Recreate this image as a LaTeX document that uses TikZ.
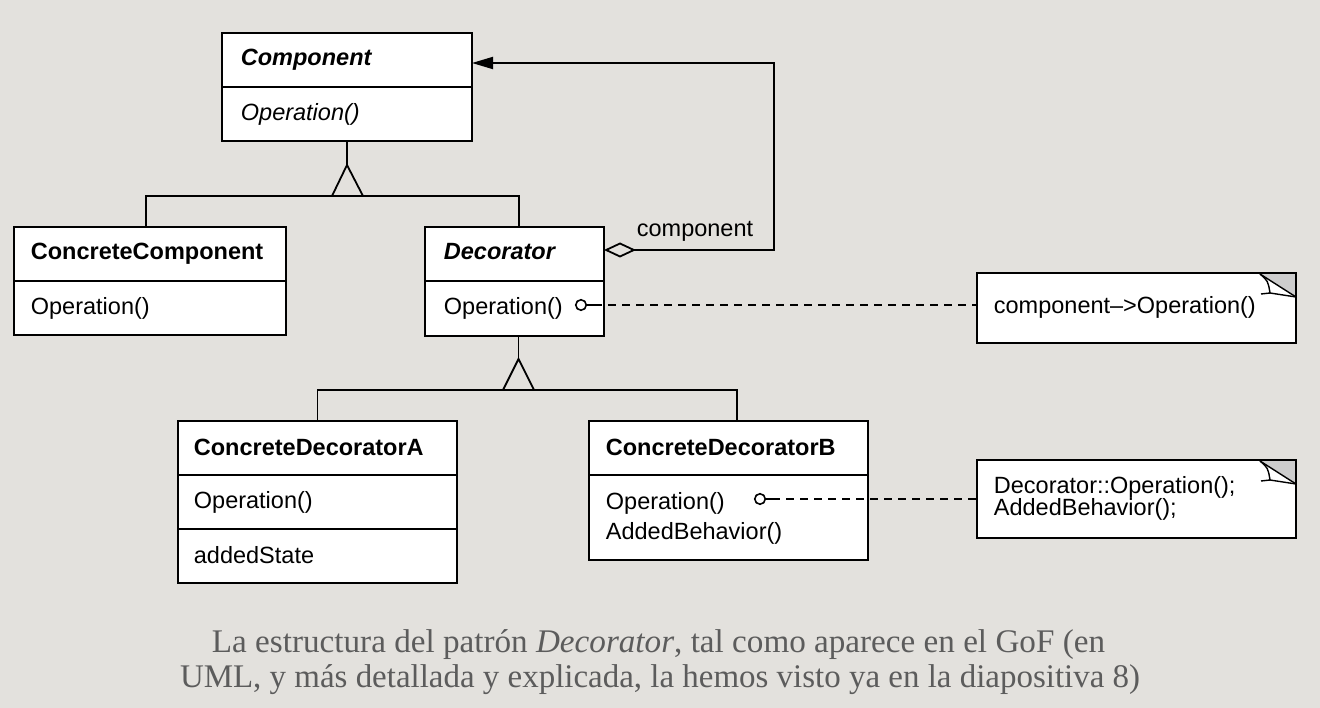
\documentclass[tikz,border=0pt]{standalone}
\usepackage{fontspec}
\usepackage{graphicx}
\usetikzlibrary{arrows.meta}
\newfontfamily\umlfont{Liberation Sans}
\newfontfamily\capfont{Liberation Serif}
\definecolor{bg}{RGB}{227,225,221}
\definecolor{capgray}{RGB}{92,92,92}
\definecolor{foldgray}{RGB}{205,205,205}
\begin{document}
\begin{tikzpicture}[x=1pt,y=-1pt,line width=1.8pt,
  box/.style={draw,fill=white,anchor=north west,inner sep=0pt,outer sep=0pt},
  txt/.style={anchor=base west,inner sep=0pt,font=\umlfont\fontsize{23.5}{28}\selectfont},
  ttl/.style={anchor=base west,inner sep=0pt,font=\umlfont\bfseries\fontsize{23.5}{28}\selectfont},
  ittl/.style={anchor=base west,inner sep=0pt,font=\umlfont\bfseries\itshape\fontsize{23.5}{28}\selectfont},
  itxt/.style={anchor=base west,inner sep=0pt,font=\umlfont\itshape\fontsize{23.5}{28}\selectfont},
  lolly/.style={circle,draw,fill=white,inner sep=0pt,minimum size=10.5pt,line width=1.6pt},
  dep/.style={dash pattern=on 8pt off 6pt},
  captext/.style={anchor=base,inner sep=0pt,text=capgray,font=\capfont\fontsize{33}{40}\selectfont}]
\useasboundingbox (0,0) rectangle (1320,708);
\fill[bg] (0,0) rectangle (1320,708);

% Component
\node[box,minimum width=250pt,minimum height=108pt] (comp) at (222,33) {};
\draw (comp.west |- 0,87) -- (comp.east |- 0,87);
\node[ittl] (compT) at (240,66) {Component};
\node[itxt] (compO) at (240,121) {Operation()};

% ConcreteComponent
\node[box,minimum width=272pt,minimum height=108pt] (ccomp) at (14,227) {};
\draw (ccomp.west |- 0,281) -- (ccomp.east |- 0,281);
\node[ttl] (ccompT) at (30,260) {ConcreteComponent};
\node[txt] (ccompO) at (30,315) {Operation()};

% Decorator
\node[box,minimum width=179pt,minimum height=109pt] (dec) at (425,227) {};
\draw (dec.west |- 0,281) -- (dec.east |- 0,281);
\node[ittl] (decT) at (443,260) {Decorator};
\node[txt] (decO) at (443,315) {Operation()};
\node[lolly] (c1) at (581,305) {};

% ConcreteDecoratorA
\node[box,minimum width=279pt,minimum height=162pt] (cda) at (178,421) {};
\draw (cda.west |- 0,475) -- (cda.east |- 0,475);
\draw (cda.west |- 0,529) -- (cda.east |- 0,529);
\node[ttl] (cdaT) at (193,455) {ConcreteDecoratorA};
\node[txt] (cdaO) at (193,508) {Operation()};
\node[txt] (cdaS) at (193,563) {addedState};

% ConcreteDecoratorB
\node[box,minimum width=279pt,minimum height=139pt] (cdb) at (589,421) {};
\draw (cdb.west |- 0,475) -- (cdb.east |- 0,475);
\node[ttl] (cdbT) at (605,455) {ConcreteDecoratorB};
\node[txt] (cdbO) at (605,509) {Operation()};
\node[txt] (cdbA) at (605,539) {AddedBehavior()};
\node[lolly] (c2) at (760,499) {};

% Notes
\node[box,minimum width=319pt,minimum height=70pt] (note1) at (977,273) {};
\node[txt] (note1T) at (993,314) {component{\char"2013}>Operation()};
\node[box,minimum width=319pt,minimum height=78pt] (note2) at (977,460) {};
\node[txt] (note2a) at (993,493) {Decorator::Operation();};
\node[txt] (note2b) at (993,515) {AddedBehavior();};
\foreach \n in {note1,note2}{
  \fill[foldgray] ([xshift=-36pt,yshift=-1pt]\n.north east) -- (\n.north east) -- ([yshift=-24pt]\n.north east) -- cycle;
  \draw[line width=1.4pt] ([xshift=-36pt,yshift=-1pt]\n.north east) -- ([yshift=-24pt]\n.north east);
  \draw[line width=1.4pt] ([xshift=-36pt,yshift=-1pt]\n.north east) .. controls ([xshift=-28pt,yshift=-8pt]\n.north east) .. ([xshift=-26pt,yshift=-20pt]\n.north east) -- ([yshift=-24pt]\n.north east);
  \draw[line width=1.4pt] ([xshift=-35pt,yshift=-21pt]\n.north east) -- ([xshift=-26pt,yshift=-20pt]\n.north east);
  \draw (\n.north west) rectangle (\n.south east);
}

% Inheritance 1
\coordinate (apex1) at (347,165);
\coordinate (base1) at (347,196);
\draw (comp.south) -- (apex1);
\draw (apex1) -- (332,196) -- (363,196) -- cycle;
\draw ([xshift=-4pt]ccomp.north) |- (base1) -| ([xshift=4.5pt]dec.north);

% Inheritance 2
\coordinate (apex2) at (518.5,359);
\coordinate (base2) at (518.5,390);
\draw ([xshift=4pt]dec.south) -- (apex2);
\draw (apex2) -- ([xshift=-15.5pt]base2) -- ([xshift=15.5pt]base2) -- cycle;
\draw (cda.north) |- (base2) -| ([xshift=8.5pt]cdb.north);

% Aggregation
\coordinate (turn) at (774,63);
\draw[{Diamond[open,length=32pt,width=15pt]}-{Triangle[length=21pt,width=12pt]}] (dec.east |- 0,250) -| (turn) -- (comp.east |- turn);
\node[txt] (aggL) at (636,237) {component};

% Dependencies
\draw (c1.east) -- ++(7,0) coordinate (d1);
\draw[dep] (d1) -- (note1.west |- c1);
\draw (c2.east) -- ++(6,0) coordinate (d2);
\draw[dep] (d2) -- (note2.west |- c2);

% Caption
\node[captext] (cap1) at (658.5,652) {\resizebox{893pt}{\height}{La estructura del patrón \textit{Decorator}, tal como aparece en el GoF (en}};
\node[captext] (cap2) at (660,687) {\resizebox{960pt}{\height}{UML, y más detallada y explicada, la hemos visto ya en la diapositiva 8)}};
\end{tikzpicture}
\end{document}
